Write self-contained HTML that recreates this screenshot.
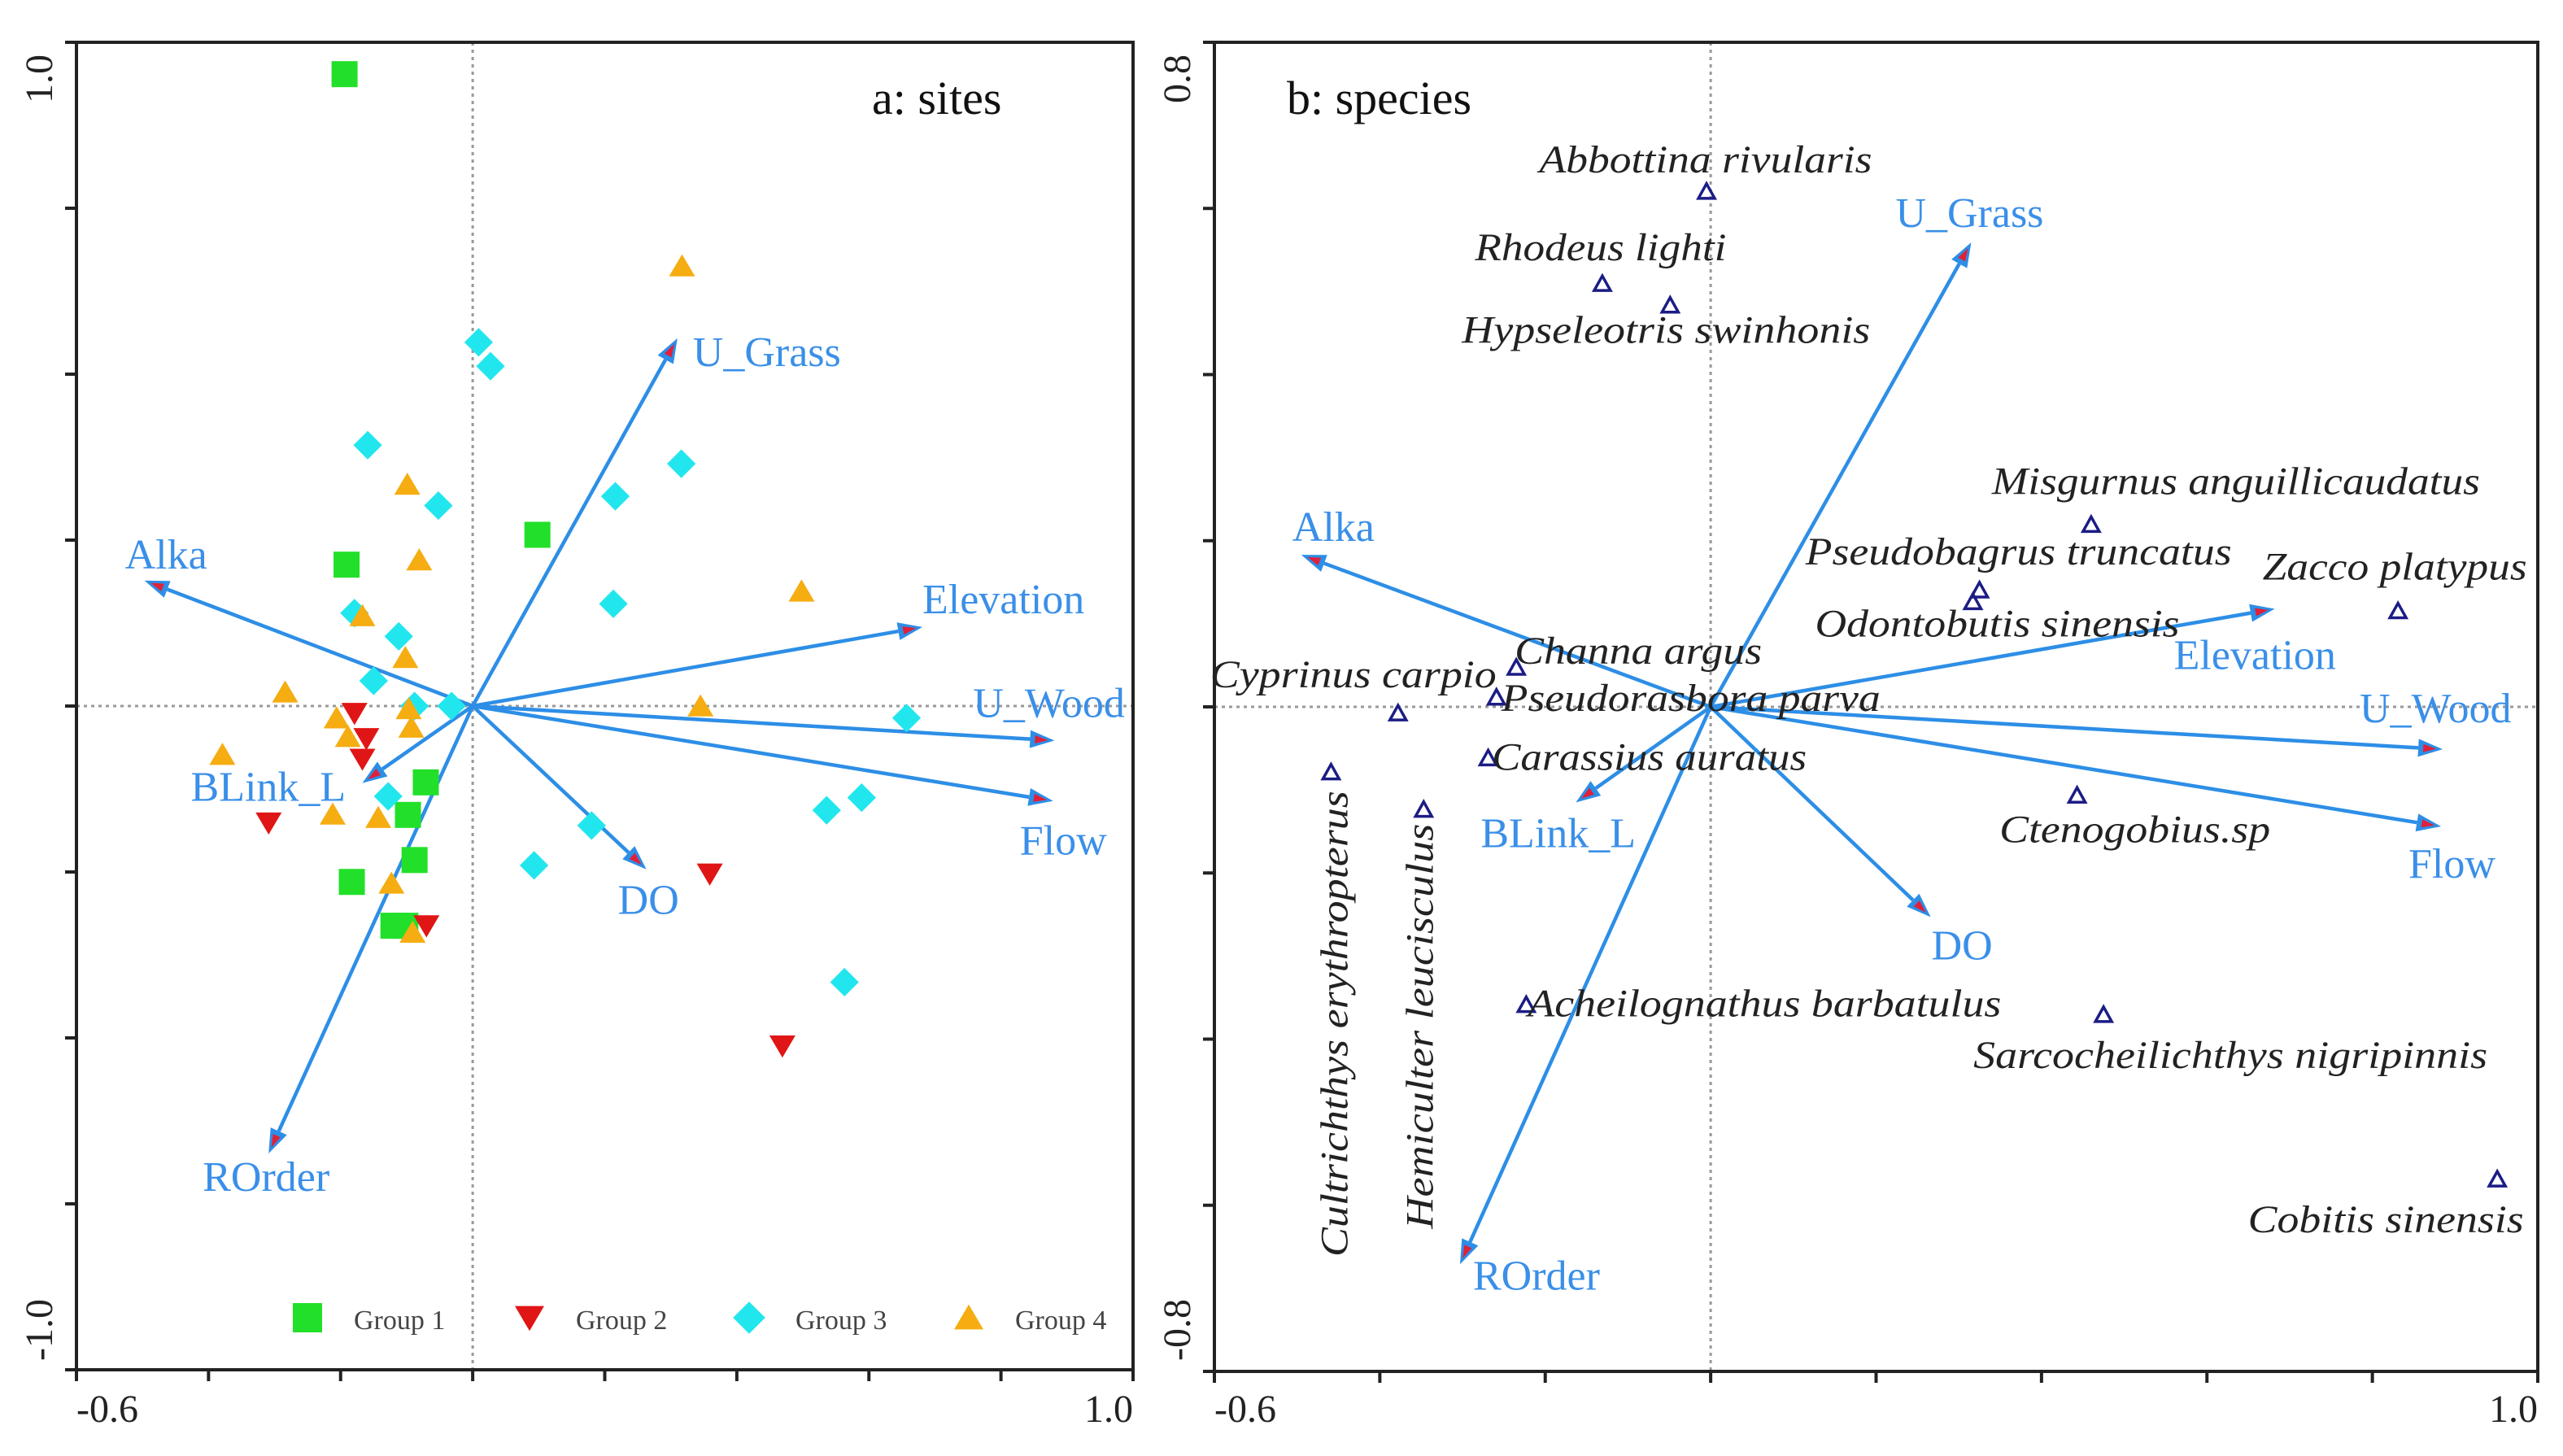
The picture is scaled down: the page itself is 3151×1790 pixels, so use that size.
<!DOCTYPE html>
<html><head><meta charset="utf-8"><style>
html,body{margin:0;padding:0;background:#fff;}
svg{display:block;}
text{font-family:"Liberation Serif",serif;}
</style></head><body>
<svg id="chart" xmlns="http://www.w3.org/2000/svg" width="3151" height="1790" viewBox="0 0 3151 1790">
<rect width="3151" height="1790" fill="#fff"/>
<g id="pa"></g>
<g id="pb"></g>
</svg>
<script>
// ---- data ----
const envNames = ["U_Grass","Alka","Elevation","U_Wood","Flow","DO","BLink_L","ROrder"];
const envAX = [0.310,-0.497,0.681,0.881,0.879,0.263,-0.167,-0.309];
const envAY = [0.554,0.189,0.119,-0.052,-0.143,-0.246,-0.116,-0.674];
const envBX = [0.315,-0.495,0.682,0.885,0.883,0.266,-0.163,-0.303];
const envBY = [0.559,0.183,0.118,-0.051,-0.144,-0.253,-0.115,-0.671];

const g1X = [-0.194,-0.191,0.098,-0.071,-0.098,-0.088,-0.183,-0.120,-0.102];
const g1Y = [0.952,0.213,0.258,-0.115,-0.164,-0.232,-0.265,-0.331,-0.331];
const g2X = [-0.179,-0.161,-0.167,-0.309,-0.070,0.359,0.469];
const g2Y = [-0.011,-0.049,-0.080,-0.176,-0.331,-0.253,-0.512];
const g3X = [0.009,0.027,-0.159,-0.052,0.316,0.216,0.213,-0.179,-0.112,-0.150,-0.088,-0.032,0.657,-0.128,0.180,0.093,0.536,0.589,0.563];
const g3Y = [0.548,0.512,0.393,0.302,0.365,0.316,0.154,0.140,0.105,0.038,0.000,0.000,-0.018,-0.136,-0.180,-0.240,-0.157,-0.138,-0.416];
const g4X = [0.317,-0.099,-0.081,-0.167,-0.102,0.498,-0.284,-0.206,-0.189,-0.097,-0.093,0.345,-0.379,-0.212,-0.143,-0.123,-0.091];
const g4Y = [0.663,0.334,0.220,0.136,0.073,0.173,0.021,-0.018,-0.046,-0.004,-0.032,0.000,-0.073,-0.163,-0.168,-0.267,-0.341];

const spNames = ["Abbottina rivularis","Rhodeus lighti","Hypseleotris swinhonis","Misgurnus anguillicaudatus","Pseudobagrus truncatus","Odontobutis sinensis","Zacco platypus","Channa argus","Cyprinus carpio","Pseudorasbora parva","Carassius auratus","Ctenogobius.sp","Acheilognathus barbatulus","Sarcocheilichthys nigripinnis","Cobitis sinensis","Cultrichthys erythropterus","Hemiculter leucisculus"];
const spX = [-0.005,-0.131,-0.049,0.460,0.325,0.317,0.831,-0.235,-0.378,-0.259,-0.269,0.443,-0.223,0.475,0.951,-0.459,-0.347];
const spY = [0.620,0.509,0.483,0.219,0.140,0.126,0.115,0.047,-0.008,0.011,-0.062,-0.107,-0.359,-0.371,-0.569,-0.079,-0.124];

// ---- layout (not data) ----
const envOffA = [[19,34],[-24,-15],[0,-17],[-100,-29],[-41,66],[-35,55],[-211,22],[-81,46]];
const envOffB = [[-93,-19],[-11,-17],[-124,74],[-102,-33],[-40,63],[1,52],[-117,55],[16,31]];
const spOff = [[-1,-24,409],[-2,-29,309],[-5,46,502],[178,-38,600],[48,-32,524],[30,42,448],[-4,-39,325],[150,-5,304],[-55,-32,352],[239,16,466],[198,14,387],[71,57,333],[293,14,582],[156,65,632],[-137,65,339],[20,309,573],[11,266,498]];

const NS="http://www.w3.org/2000/svg";
function mk(parent,tag,attrs,txt){const e=document.createElementNS(NS,tag);for(const k in attrs)e.setAttribute(k,attrs[k]);if(txt!==undefined)e.textContent=txt;parent.appendChild(e);return e;}

const A={L:94,R:1393,T:52,B:1684,x0:-0.6,x1:1.0,y0:-1.0,y1:1.0};
const Bp={L:1493,R:3120,T:52,B:1686,x0:-0.6,x1:1.0,y0:-0.8,y1:0.8};
function sx(P,x){return P.L+(x-P.x0)/(P.x1-P.x0)*(P.R-P.L);}
function sy(P,y){return P.B-(y-P.y0)/(P.y1-P.y0)*(P.B-P.T);}

function frame(g,P,yTop,yBot,name){
  let e=mk(g,'line',{x1:sx(P,0),x2:sx(P,0),y1:P.T,y2:P.B,stroke:'#999','stroke-width':3,'stroke-dasharray':'4 5'});
  
  e=mk(g,'line',{x1:P.L,x2:P.R,y1:sy(P,0),y2:sy(P,0),stroke:'#999','stroke-width':3,'stroke-dasharray':'4 5'});
  
  e=mk(g,'rect',{x:P.L,y:P.T,width:P.R-P.L,height:P.B-P.T,fill:'none',stroke:'#222','stroke-width':4});
  
  for(let i=0;i<=8;i++){
    const x=P.L+i*(P.R-P.L)/8, y=P.T+i*(P.B-P.T)/8;
    let t=mk(g,'line',{x1:x,x2:x,y1:P.B,y2:P.B+14,stroke:'#222','stroke-width':4});
    
    t=mk(g,'line',{x1:P.L-14,x2:P.L,y1:y,y2:y,stroke:'#222','stroke-width':4});
    
  }
  e=mk(g,'text',{x:P.L,y:1748,'font-size':48,fill:'#222'},'-0.6');
  
  e=mk(g,'text',{x:P.R,y:1748,'font-size':48,fill:'#222','text-anchor':'end'},'1.0');
  
  e=mk(g,'text',{x:0,y:0,'font-size':48,fill:'#222','text-anchor':'middle',transform:`translate(${P.L-30},97) rotate(-90)`},yTop);
  
  e=mk(g,'text',{x:0,y:0,'font-size':48,fill:'#222','text-anchor':'middle',transform:`translate(${P.L-30},1635) rotate(-90)`},yBot);
  
  e=mk(g,'text',{x:name[1],y:140,'font-size':58,fill:'#111'},name[0]);
  
}

function arrows(g,P,X,Y,off){
  const ox=sx(P,0),oy=sy(P,0);
  for(let i=0;i<envNames.length;i++){
    const tx=sx(P,X[i]),ty=sy(P,Y[i]);
    const gg=mk(g,'g',{});
    
    
    const ang=Math.atan2(ty-oy,tx-ox),c=Math.cos(ang),s=Math.sin(ang);
    const L=30,W=11;
    const bx=tx-c*L,by=ty-s*L;
    mk(gg,'line',{x1:ox,y1:oy,x2:bx,y2:by,stroke:'#2d8ee6','stroke-width':4.5});
    mk(gg,'polygon',{points:`${tx},${ty} ${bx-s*W},${by+c*W} ${bx+s*W},${by-c*W}`,fill:'#2d8ee6'});
    const ix=tx-c*8,iy=ty-s*8,jx=tx-c*24,jy=ty-s*24;
    mk(gg,'polygon',{points:`${ix},${iy} ${jx-s*5},${jy+c*5} ${jx+s*5},${jy-c*5}`,fill:'#e0203a'});
    const lb=mk(g,'text',{x:tx+off[i][0],y:ty+off[i][1],'font-size':52,fill:'#3a8fe8'},envNames[i]);
    
    
  }
}

function marker(g,type,cx,cy,s){
  let e;
  if(type===1) e=mk(g,'rect',{x:cx-s/2,y:cy-s/2,width:s,height:s,fill:'#22e02a'});
  else if(type===2) e=mk(g,'polygon',{points:`${cx-s/2},${cy-s*0.4} ${cx+s/2},${cy-s*0.4} ${cx},${cy+s*0.45}`,fill:'#e01515'});
  else if(type===3) e=mk(g,'polygon',{points:`${cx},${cy-s*0.55} ${cx+s*0.55},${cy} ${cx},${cy+s*0.55} ${cx-s*0.55},${cy}`,fill:'#22e6ee'});
  else e=mk(g,'polygon',{points:`${cx-s/2},${cy+s*0.4} ${cx+s/2},${cy+s*0.4} ${cx},${cy-s*0.45}`,fill:'#f5ad12'});
  return e;
}

// ---- panel a ----
const pa=document.getElementById('pa');
frame(pa,A,'1.0','-1.0',['a: sites',1072]);
arrows(pa,A,envAX,envAY,envOffA);
const groups=[[g1X,g1Y],[g2X,g2Y],[g3X,g3Y],[g4X,g4Y]];
groups.forEach((gr,k)=>{
  for(let i=0;i<gr[0].length;i++){
    const m=marker(pa,k+1,sx(A,gr[0][i]),sy(A,gr[1][i]),32);
    
    
  }
});
const legX=[378,651,921,1191];
for(let k=0;k<4;k++){
  const lg=mk(pa,'g',{});
  
  
  marker(lg,k+1,legX[k],1620,36);
  mk(lg,'text',{x:legX[k]+57,y:1634,'font-size':34,fill:'#444'},'Group '+(k+1));
}

// ---- panel b ----
const pb=document.getElementById('pb');
frame(pb,Bp,'0.8','-0.8',['b: species',1582]);
arrows(pb,Bp,envBX,envBY,envOffB);
for(let i=0;i<spNames.length;i++){
  const cx=sx(Bp,spX[i]),cy=sy(Bp,spY[i]);
  const t=mk(pb,'polygon',{points:`${cx-10},${cy+8} ${cx+10},${cy+8} ${cx},${cy-10}`,fill:'none',stroke:'#1c1c86','stroke-width':3.5});
  
  
  const o=spOff[i];
  let lb;
  if(i>=15){
    lb=mk(pb,'text',{x:0,y:0,'font-size':48,'font-style':'italic',fill:'#222','text-anchor':'middle',textLength:o[2],lengthAdjust:'spacingAndGlyphs',transform:`translate(${cx+o[0]},${cy+o[1]}) rotate(-90)`},spNames[i]);
  } else {
    lb=mk(pb,'text',{x:cx+o[0],y:cy+o[1],'font-size':48,'font-style':'italic',fill:'#222','text-anchor':'middle',textLength:o[2],lengthAdjust:'spacingAndGlyphs'},spNames[i]);
  }
  
  
}
</script>
</body></html>
